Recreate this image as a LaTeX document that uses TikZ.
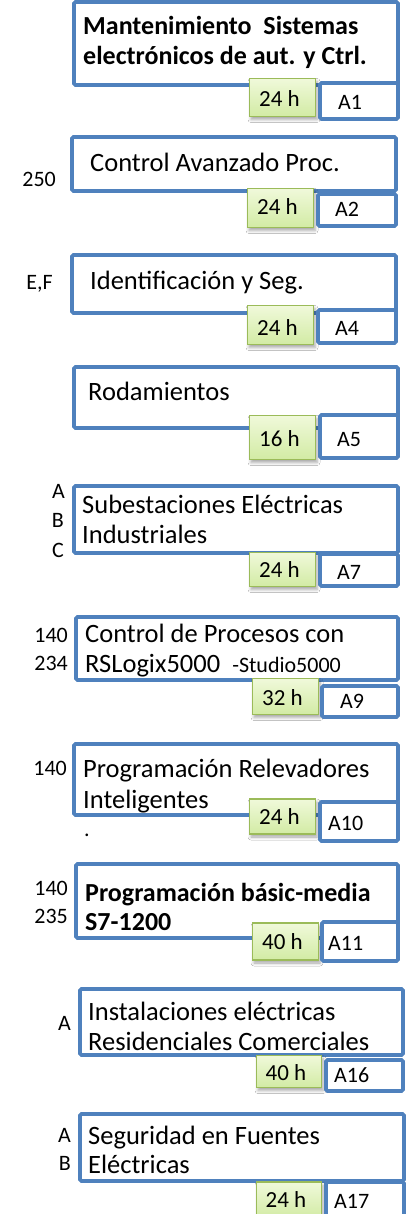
\documentclass[tikz,border=0pt]{standalone}
\usepackage{fontspec}
\setmainfont{Carlito}
\usetikzlibrary{shadows,shadows.blur}
\definecolor{bblue}{HTML}{4F81BD}
\definecolor{gborder}{HTML}{9BBB59}
\definecolor{gtop}{HTML}{F0F9DA}
\definecolor{gbot}{HTML}{D2EBA4}
\tikzset{
 mainbox/.style={draw=bblue, line width=3.8pt, fill=white, rounded corners=1.5pt, inner sep=0pt},
 codebox/.style={draw=bblue, line width=3.8pt, fill=white, rounded corners=1.5pt, inner sep=0pt},
 hourbox/.style={draw=gborder, line width=1.6pt, top color=gtop, bottom color=gbot, inner sep=0pt,
   blur shadow={shadow xshift=1.5pt, shadow yshift=-3pt, shadow blur radius=3pt, shadow opacity=35}},
 hourtext/.style={anchor=base, inner sep=0pt, font=\fontsize{23}{26}\selectfont},
 maintext/.style={anchor=base west, inner sep=0pt, font=\fontsize{26.5}{30}\selectfont},
 boldtext/.style={anchor=base west, inner sep=0pt, font=\fontsize{26}{30}\selectfont\bfseries},
 codetext/.style={anchor=base west, inner sep=0pt, font=\fontsize{22}{26}\selectfont},
 sidelabel/.style={anchor=base east, inner sep=0pt, font=\fontsize{22}{26}\selectfont},
}
\begin{document}
\begin{tikzpicture}[x=1pt,y=-1pt]
\useasboundingbox (0,0) rectangle (408,1214);
\fill[white] (0,0) rectangle (408,1214);

% A1
\node[mainbox, minimum width=324, minimum height=83] (m1) at (236,43.5) {};
\node[boldtext] (t1a) at (83,35) {Mantenimiento\ \ Sistemas};
\node[boldtext] (t1b) at (83,65) {electrónicos de aut. y Ctrl.};
\node[hourbox, minimum width=66, minimum height=38] (g1) at (282.5,97.5) {};
\node[hourtext] (h1) at (279.5,107) {24 h};
\node[codebox, minimum width=78, minimum height=36] (c1) at (359,101) {};
\node[codetext] (k1) at (338,110) {A1};

% A2
\node[mainbox, minimum width=324, minimum height=54] (m2) at (234,164) {};
\node[maintext] (t2a) at (90,172) {Control Avanzado Proc.};
\node[sidelabel] (l2a) at (56,187) {250};
\node[hourbox, minimum width=66, minimum height=39] (g2) at (280.5,208) {};
\node[hourtext] (h2) at (277.5,215) {24 h};
\node[codebox, minimum width=78, minimum height=32] (c2) at (357,210) {};
\node[codetext] (k2) at (335,217) {A2};

% A4
\node[mainbox, minimum width=324, minimum height=58] (m4) at (234,284) {};
\node[maintext] (t4a) at (90,290) {Identificación y Seg.};
\node[sidelabel] (l4a) at (53,290) {E,F};
\node[hourbox, minimum width=66, minimum height=39] (g4) at (280.5,325) {};
\node[hourtext] (h4) at (277.5,335) {24 h};
\node[codebox, minimum width=78, minimum height=33] (c4) at (357,326.5) {};
\node[codetext] (k4) at (335,335) {A4};

% A5
\node[mainbox, minimum width=324, minimum height=61] (m5) at (236,397.5) {};
\node[maintext] (t5a) at (88,400) {Rodamientos};
\node[hourbox, minimum width=66, minimum height=44] (g5) at (282.5,437.5) {};
\node[hourtext] (h5) at (279.5,446) {16 h};
\node[codebox, minimum width=78, minimum height=43] (c5) at (359,436.5) {};
\node[codetext] (k5) at (337,446) {A5};

% A7
\node[mainbox, minimum width=324, minimum height=67] (m7) at (236,519.5) {};
\node[maintext] (t7a) at (82,513) {Subestaciones Eléctricas};
\node[maintext] (t7b) at (82,543) {Industriales};
\node[sidelabel] (l7a) at (65,498) {A};
\node[sidelabel] (l7b) at (64,527) {B};
\node[sidelabel] (l7c) at (64,557) {C};
\node[hourbox, minimum width=66, minimum height=34] (g7) at (282.5,569.5) {};
\node[hourtext] (h7) at (279.5,577) {24 h};
\node[codebox, minimum width=78, minimum height=32] (c7) at (359,570) {};
\node[codetext] (k7) at (337,579) {A7};

% A9
\node[mainbox, minimum width=322, minimum height=63] (m9) at (237,648.5) {};
\node[maintext] (t9a) at (85,642) {Control de Procesos con};
\node[maintext] (t9b) at (85,672) {RSLogix5000\ \ {\fontsize{22}{26}\selectfont -Studio5000}};
\node[sidelabel] (l9a) at (68,642) {140};
\node[sidelabel] (l9b) at (68,670) {234};
\node[hourbox, minimum width=66, minimum height=36] (g9) at (285.5,696.5) {};
\node[hourtext] (h9) at (282.5,705) {32 h};
\node[codebox, minimum width=76, minimum height=31] (c9) at (360,701.5) {};
\node[codetext] (k9) at (340,708) {A9};

% A10
\node[mainbox, minimum width=324, minimum height=71] (m10) at (236,779.5) {};
\node[maintext] (t10a) at (83,777) {Programación Relevadores};
\node[maintext] (t10b) at (83,808) {Inteligentes};
\node[sidelabel] (l10a) at (67,775) {140};
\node[codetext] (d10) at (84,836) {.};
\node[hourbox, minimum width=66, minimum height=35] (g10) at (282.5,816.5) {};
\node[hourtext] (h10) at (279.5,824) {24 h};
\node[codebox, minimum width=78, minimum height=39] (c10) at (359,821.5) {};
\node[codetext] (k10) at (328,830) {A10};

% A11
\node[mainbox, minimum width=322, minimum height=74] (m11) at (237,901) {};
\node[boldtext] (t11a) at (85,901) {Programación básic-media};
\node[boldtext] (t11b) at (85,930) {S7-1200};
\node[sidelabel] (l11a) at (68,895) {140};
\node[sidelabel] (l11b) at (68,923) {235};
\node[hourbox, minimum width=66, minimum height=37] (g11) at (285.5,941.5) {};
\node[hourtext] (h11) at (282.5,949) {40 h};
\node[codebox, minimum width=76, minimum height=39] (c11) at (360,941.5) {};
\node[codetext] (k11) at (328,950) {A11};

% A16
\node[mainbox, minimum width=323, minimum height=66] (m16) at (241.5,1022) {};
\node[maintext] (t16a) at (88,1020) {Instalaciones eléctricas};
\node[maintext] (t16b) at (88,1050) {Residenciales Comerciales};
\node[sidelabel] (l16a) at (71,1030) {A};
\node[hourbox, minimum width=65, minimum height=32] (g16) at (289,1071.5) {};
\node[hourtext] (h16) at (286,1080) {40 h};
\node[codebox, minimum width=77, minimum height=31] (c16) at (364.5,1075.5) {};
\node[codetext] (k16) at (334,1082) {A16};

% A17
\node[mainbox, minimum width=324, minimum height=67] (m17) at (242,1147.5) {};
\node[maintext] (t17a) at (88,1144) {Seguridad en Fuentes};
\node[maintext] (t17b) at (88,1173) {Eléctricas};
\node[sidelabel] (l17a) at (71,1142) {A};
\node[sidelabel] (l17b) at (71,1170) {B};
\node[hourbox, minimum width=65, minimum height=36] (g17) at (289,1200) {};
\node[hourtext] (h17) at (286,1207) {24 h};
\node[codebox, minimum width=78, minimum height=36] (c17) at (365,1200) {};
\node[codetext] (k17) at (334,1208) {A17};
\end{tikzpicture}
\end{document}
